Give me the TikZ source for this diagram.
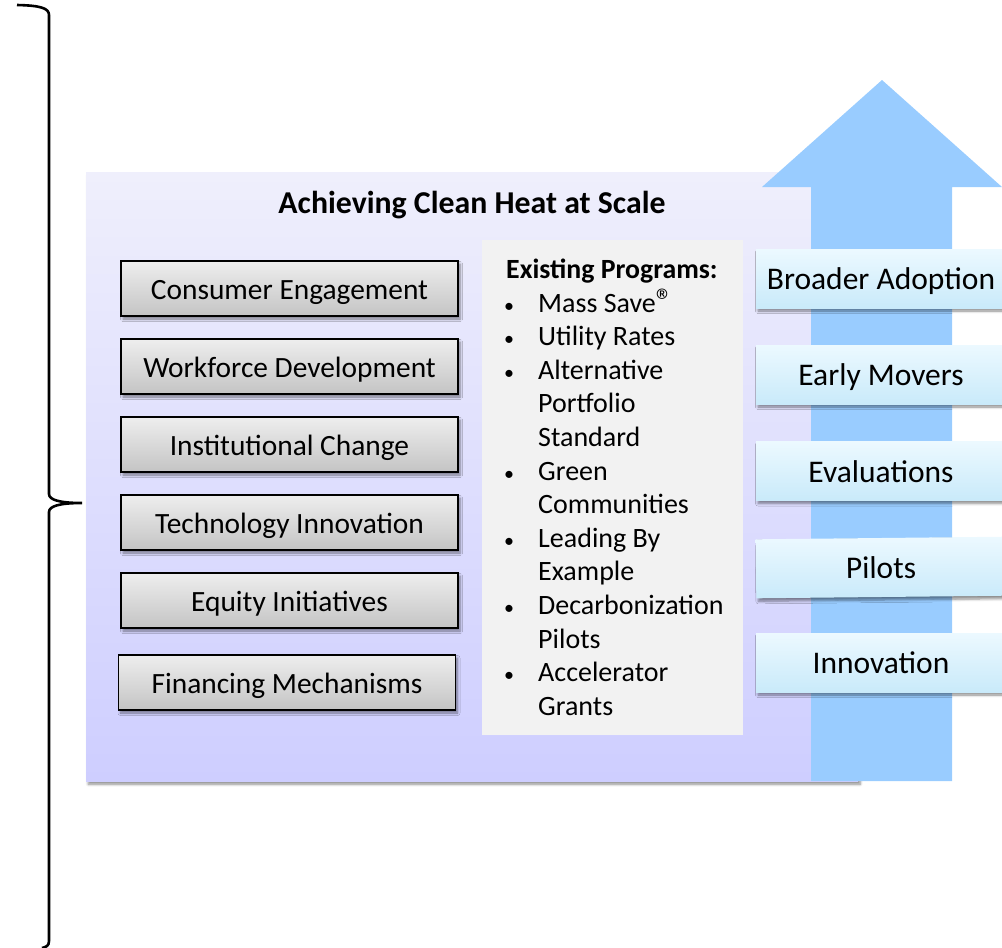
\documentclass[tikz,border=0pt]{standalone}
\usepackage{fontspec}
\setmainfont{Carlito}
\usetikzlibrary{shadows,shadows.blur}
\definecolor{arrowblue}{RGB}{153,204,255}
\definecolor{lavtop}{RGB}{239,239,252}
\definecolor{lavbot}{RGB}{206,206,255}
\definecolor{graytop}{RGB}{238,238,238}
\definecolor{graybot}{RGB}{196,196,196}
\definecolor{bluetop}{RGB}{236,249,255}
\definecolor{bluebot}{RGB}{201,234,250}
\definecolor{progbg}{RGB}{242,242,242}
\begin{document}
\begin{tikzpicture}[x=1pt,y=-1pt,
  softshadow/.style={blur shadow={shadow xshift=2pt,shadow yshift=-3pt,shadow blur steps=6,shadow blur radius=2.5pt,shadow opacity=45}},
  graybox/.style={draw=black,line width=1.5pt,top color=graytop,bottom color=graybot,
    minimum width=337pt,minimum height=55pt,inner sep=0pt,softshadow,
    text height=21pt,text depth=0pt,
    font=\fontsize{29.4}{34}\selectfont},
  bluebox/.style={top color=bluetop,bottom color=bluebot,
    minimum width=250pt,minimum height=59pt,inner sep=0pt,softshadow,
    text height=22pt,text depth=0pt,
    font=\fontsize{31.5}{36}\selectfont},
  progtxt/.style={anchor=base west,inner sep=0pt,font=\fontsize{28}{33}\selectfont},
  bullet/.style={anchor=base west,inner sep=0pt,font=\fontsize{20}{24}\selectfont},
]
\useasboundingbox (0,0) rectangle (1002,948);
% brace
\draw[line width=2.6pt]
  (17,5) .. controls (40,5.5) and (49,8) .. (49,15) -- (49,494)
  .. controls (49,500) and (60,503) .. (82,503)
  .. controls (60,503) and (49,506) .. (49,512) -- (49,941)
  .. controls (49,946) and (46,947) .. (42,948);
% main box
\node[anchor=north west,minimum width=772pt,minimum height=609pt,inner sep=0pt,
  top color=lavtop,bottom color=lavbot,softshadow] (main) at (86,172) {};
% arrow
\fill[arrowblue] (811,781) -- (811,187) -- (762,187) -- (882,80) -- (1002,187)
  -- (952,187) -- (952,781) -- cycle;
% title
\node[anchor=base,inner sep=0pt,font=\bfseries\fontsize{31.8}{36}\selectfont] (title) at (472,213) {Achieving Clean Heat at Scale};
% left boxes
\node[graybox] (ce) at (289.5,288.5) {Consumer Engagement};
\node[graybox] (wd) at (289.5,366.5) {Workforce Development};
\node[graybox] (ic) at (289.5,444.5) {Institutional Change};
\node[graybox] (ti) at (289.5,522.5) {Technology Innovation};
\node[graybox] (ei) at (289.5,600.5) {Equity Initiatives};
\node[graybox] (fm) at (287,682.5) {Financing Mechanisms};
% programs box
\node[anchor=north west,fill=progbg,minimum width=261pt,minimum height=495pt,inner sep=0pt] (prog) at (482,240) {};
\node[anchor=base west,inner sep=0pt,font=\bfseries\fontsize{27.8}{33}\selectfont] (ph) at (506,278) {Existing Programs:};
\node[bullet] (b1) at (504,312) {•};
\node[progtxt] (p1) at (538,312) {Mass Save{\fontsize{34}{34}\selectfont ®}};
\node[bullet] (b2) at (504,345.5) {•};
\node[progtxt] (p2) at (538,345.5) {Utility Rates};
\node[bullet] (b3) at (504,379) {•};
\node[progtxt] (p3) at (538,379) {Alternative};
\node[progtxt] (p4) at (538,412.7) {Portfolio};
\node[progtxt] (p5) at (538,446.3) {Standard};
\node[bullet] (b4) at (504,480) {•};
\node[progtxt] (p6) at (538,480) {Green};
\node[progtxt] (p7) at (538,513.5) {Communities};
\node[bullet] (b5) at (504,547) {•};
\node[progtxt] (p8) at (538,547) {Leading By};
\node[progtxt] (p9) at (538,580.7) {Example};
\node[bullet] (b6) at (504,614.3) {•};
\node[progtxt] (p10) at (538,614.3) {Decarbonization};
\node[progtxt] (p11) at (538,648) {Pilots};
\node[bullet] (b7) at (504,681.5) {•};
\node[progtxt] (p12) at (538,681.5) {Accelerator};
\node[progtxt] (p13) at (538,715) {Grants};
% right labels
\node[bluebox] (ba) at (881,278.5) {Broader Adoption};
\node[bluebox] (em) at (881,374.5) {Early Movers};
\node[bluebox] (ev) at (881,471) {Evaluations};
\node[bluebox,rotate=0.6] (pi) at (881,567.5) {Pilots};
\node[bluebox] (in) at (881,662.5) {Innovation};
\end{tikzpicture}
\end{document}
